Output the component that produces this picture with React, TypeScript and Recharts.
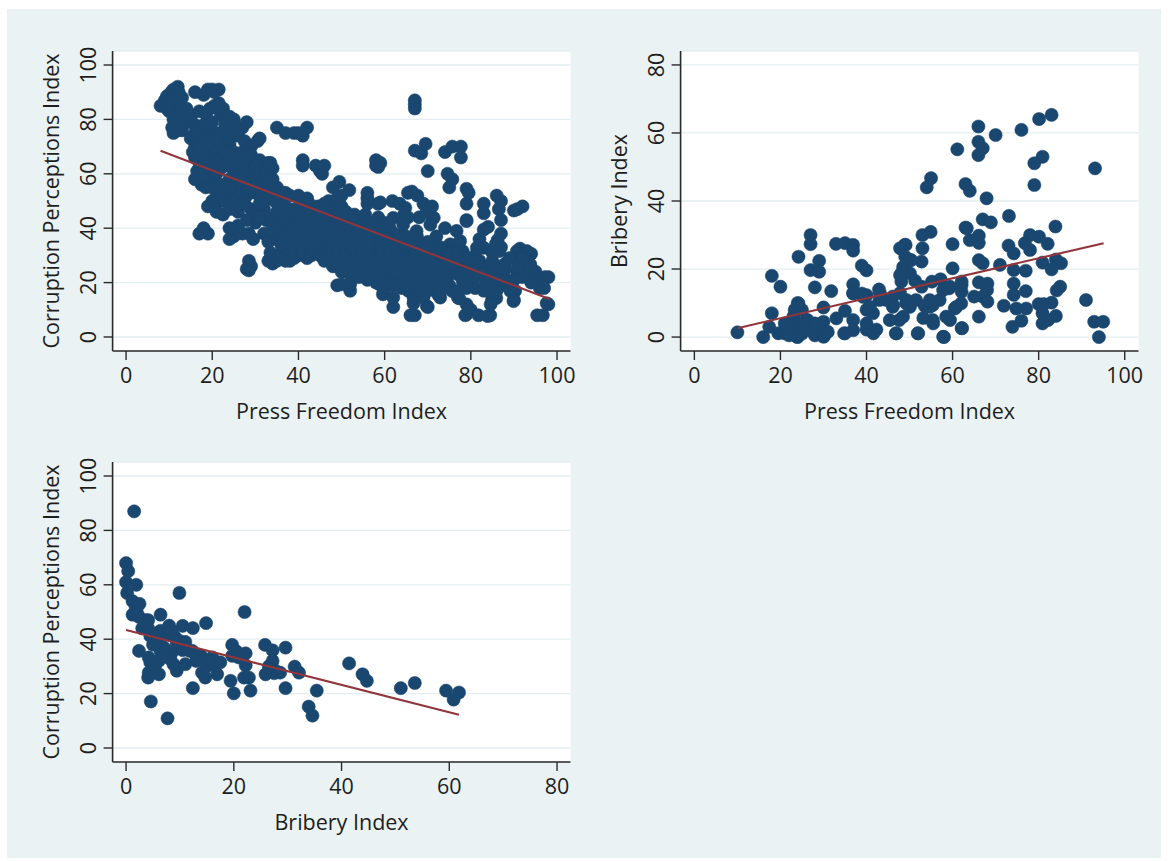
import React from 'react';
import { ScatterChart, Scatter, XAxis, YAxis, CartesianGrid, Label } from 'recharts';

type Pt = [number, number];

// ---------- DATA ----------
const xTicks100 = [0, 20, 40, 60, 80, 100];
const xTicks80 = [0, 20, 40, 60, 80];
const yTicks100 = [0, 20, 40, 60, 80, 100];
const yTicks80 = [0, 20, 40, 60, 80];

const titlePress = 'Press Freedom Index';
const titleCpi = 'Corruption Perceptions Index';
const titleBribery = 'Bribery Index';

// Panel 1: Press Freedom Index (x) vs Corruption Perceptions Index (y)
const pressVsCpi: Pt[] = [
  [8,85],[9,87],[9.5,88.5],[10,89],[10.5,90],[11,91],[12,92],[12.2,90],[11.5,87],[10.5,86],[9.5,84],[11,84],[12.5,86],[13,84],[13.5,82],[12,83],[11,80],[10.7,77],[11,75],[12,78],[14.5,82],[13.5,80],[15,79],[16,78],
  [9,86],[10,87],[11,88],[12,89],[13,88],[10,83],[12,81],[11.5,79],[13,76],[12,76],[14,84],[15,81],
  [16,90],[18,89],[19,91],[20,91],[21.5,91],[20.5,90],
  [17,83],[18.5,82],[19.5,84],[20.5,85],[21.5,86],[22.5,84],[22,82],[23,80],[24,81],[25,80],[25,77],[23,76],[21,75],[19,77],[18.5,73],[17,74],[16.5,72],[16,70],[15.5,68],[16,66],[17,64],[16.5,61],[16,58],[17.5,56],[18.5,55],[19,62],[18,63],
  [20,71],[22,70],[24,71],[26,74],[27.5,72],[29,70],[30.5,72],[31,73],[27,77],[28,79],[26,76],[23.5,73],[25,68],[27,68],[29,67],[26,66],[24,66],[22,67],[20,68],[21,64],[23,63],[25,61],[27,63],[29,64],[31,65],[33,64],[34,62],[32.5,61],[31,61],[29,61],[28,58],[26,59],[24,58],[22,56],[20,58],[21,60],[23,55],[25,55],[27,56],[29,57],[31,56],[33,55],[35,55],[37,53],[30,53],[28,52],[26,50],[24,52],[22,50],[20,50],[19,48],[21,46],[22.5,45],[24,47],[26,46],[27.5,49],[29,47],[30,45],[31,49],[32,47],[32.5,43],[30,42],[28,43],[26,41],[24,40],[25,37],[27,38],[28.5,38],[29.5,36],[24,36],[17,38],[18,40],[19,38],[18,39],
  [21,52],[23,50],[25,49],[23,53],[25,52],[27,53],[29,54],[31,52],[33,51],[32,58],[30,59],[28,61],[26,63],[24,64],[22,62],[20,63],[19,66],[21,69],[23,68],[25,65],[27,65],[28,66],[30,63],[32,56],[34,58],[30,55],[28,55],[26,57],[24,55],[22,53],[20,55],[18,59],[18,66],[17,69],[19,71],[21,73],[23,78],[20,79],[18,78],[16,75],[15,73],
  [28.5,28],[28,25],[29,26],[28.5,24.5],[33,28],[34,27],[35,28],[36,30],[37,28],[33.5,31],
  [33,44],[34,41],[35,46],[36,50],[37,48],[38,52],[34,52],[32,50],[31,44],[32,38],[34,36],[36,34],[33,35],[35,38],[37,40],[36,43],
  [35,77],[37,75],[39,75],[40,75],[41,74],[42,77],[33.5,64],[33,63],[36.5,53],[34.5,50],
  [41,65],[41,63],[44,63],[45,61],[45.5,60],[46,63],
  [48,55],[49.5,57],[51.8,54],[47,50],[50,52],[49,51],[47.5,47],[46,49],[44.5,48],[42,51],[41,50],[40,52],[42.5,49],
  [56,53],[56,49],[56,51],[58.5,49],[59,49.5],[58,65],[58,63],[59,64],[58.5,62.5],
  [61.8,50],[63.5,49],[65.4,53],[66.3,53.5],[67.6,52],[69,49],[71,48],[71,44],[65.4,44],[68,44],[64.5,45],[64.8,47.5],[62,43.8],[64.3,41.3],[67.4,38.9],
  [67,87],[67,85.5],[67,84],[67,68.5],[68.5,67.5],[69.5,71],[70,61],
  [74,68],[75.7,70],[77.7,70],[77.7,66],[74.6,60],[75.7,58],[75,55],
  [79,54.5],[79.5,53],[79,49],[79,43],[83,49],[83,45.5],[83,39.5],[84,40.5],
  [86,52],[87,50],[86.5,47],[87,43],[87,38],[86.2,35.6],
  [90,46.5],[90.8,47],[92,48],
  [93.3,24.6],[94.6,22],[90,13.6],[90.3,17],[96.3,21],[97.2,22],[97.6,12.4],[95.4,8],[96.7,8],[94,30.6],[93.2,28.2],[91.4,32.5],[95,20.6],[96,18],[98,22],[98,12],
  [62,11],[66,8],[67,8],[70,11],[66.7,12.4],[72.4,15.6],[77.3,14.2],[78.7,8],[81.8,8],[84.5,8],[84.9,13.6],[85.9,14.3],[79,12],[77,14.5],[80,10],[84.6,12],
  [49,19],[50,19.4],[52,17],[52,19.4],[58.8,19.4],[59.6,15.7],[62,14.5],[66.7,14.5],[65.5,17],[69.8,11.4],[68.2,19.4],[69.8,20.6],
  [70.6,47.5],[71.4,43.8],[70.6,41.3],[69.8,46.3],[76.7,39],[74,40],[79,42.6],[83,32.8],[81.4,32.8],[85.8,34.1],[86.6,31.6],[90.7,31.6],[93,31.6],[91.4,29.1],[93.8,25.5],[89.2,16.9],[89.9,13.2],[83.9,7.7],[79,8.3],[72.9,14.5],[75.7,16.9],[74.2,21.8],[78.1,20.6],[80.5,20.6],[83.5,20.6],[85.8,20.6],[89,20.6],[79,25.5],[81.4,26.7],[83.5,25.5],[86.6,24.3],[90.7,24.3],[93.8,26.7],[72.9,29.1],[76,29.1],[78.1,31.6],[72.1,25.5],[69.8,26.7],[69,31.6],[71.4,34.1],[75.2,34.1],[77.5,35.3],[75.2,23.1],[72.9,19.4],[70.6,19.4],[68.2,16.9],[69,14.5],[88,27],[87,22],[81,18],[76,26],[82,36],[80,29],[74,32],[77,23],[71,23],[72,37],[84,17],[88,25],[92,22],
  [71,27],[71,31],[73,17],[73,21],[73,25],[73,33],[75,19],[75,27],[75,31],[77,17],[77,27],[77,31],[79,18],[79,22],[79,29],[81,22],[81,24],[81,30],[82,28],[83,17],[83,23],[85,24],[85,28],[85,31],[86,17],[87,26],[87,33],[88,19],[89,29],[90,21],[91,26],[92,29],[94,20],[95,24],[97,18],
  [36,31],[36,35],[36.5,39],[35.5,42],[38,28],[38.5,32],[38,36],[37.5,40],[38.5,44],[39,47],[40,30],[40.5,34],[40,38],[39.5,42],[40,45],[42,29],[42.5,33],[42,37],[41.5,41],[42,45],[44,31],[43.5,35],[44,39],[44.5,43],[44,47],[46,28],[46,32],[45.5,36],[46,40],[46.5,44],[46,48],[48,26],[48,30],[48.5,34],[48,38],[47.5,42],[48,46],[50,24],[50.5,28],[50,32],[49.5,36],[50,40],[50.5,44],[50,48],[52,23],[52,27],[51.5,31],[52,35],[52.5,39],[52,43],[54,22],[53.5,26],[54,30],[54.5,34],[54,38],[53.5,42],[56,21],[56.5,25],[56,29],[55.5,33],[56,37],[56.5,41],[55.5,45],[58,20],[58,24],[58.5,28],[58,32],[57.5,36],[58,40],[58.5,44],[60,18],[60.5,22],[60,26],[59.5,30],[60,34],[60.5,38],[60,42],[62,19],[61.5,23],[62,27],[62.5,31],[62,35],[61.5,39],[64,18],[64,22],[64.5,26],[64,30],[63.5,34],[64,38],[66,19],[66.5,23],[66,27],[65.5,31],[66,35],[68,21],[68,25],[68.5,29],[68,33],[67.5,37],[70,17],[70.5,21],[70,25],[69.5,30],[70,35],
  [37,33],[37,37],[37,44],[39,29],[39,33],[39,37],[39,40],[41,31],[41,35],[41,39],[41,43],[41,47],[43,30],[43,33],[43,37],[43,41],[43,45],[45,30],[45,34],[45,38],[45,42],[45,46],[47,28],[47,32],[47,36],[47,40],[47,44],[49,27],[49,31],[49,35],[49,39],[49,43],[49,47],[51,26],[51,30],[51,34],[51,38],[51,42],[51,46],[53,24],[53,28],[53,33],[53,37],[53,41],[53,45],[55,23],[55,27],[55,31],[55,35],[55,39],[55,43],[57,22],[57,26],[57,30],[57,34],[57,38],[57,42],[59,20],[59,24],[59,28],[59,32],[59,36],[59,40],[61,20],[61,25],[61,29],[61,33],[61,37],[61,41],[63,20],[63,24],[63,28],[63,32],[63,36],[65,21],[65,25],[65,29],[65,33],[65,37],[67,19],[67,23],[67,27],[67,31],[67,35],[69,19],[69,23],[69,27],[69,33],
];
const fitPressCpi: Pt[] = [[8, 68.5], [98.4, 13.9]];

// Panel 2: Press Freedom Index (x) vs Bribery Index (y)
const pressVsBribery: Pt[] = [
  [10,1.4],[16,0],[18,18],[20,14.8],[18,7],[17.4,3],[19.5,1.1],[21,1.1],[21.8,4],[23.3,5],[24.2,9.9],[24.2,23.6],[23.3,8],[24.4,2.1],[24,0],[26.3,5],[27,30],[27,27.3],[29,22.4],[27,19.7],[29,19.2],[28,14.6],[30,8.7],[30,4.5],[30.1,0.2],[28.6,2.2],[31.8,13.5],[32.9,27.4],[35,27.6],[36.9,27.1],[36.9,25.4],[38.9,21],[40,19.6],[36.9,15.5],[36.9,12.8],[38.9,12.8],[40,12.3],[42.9,14],[33,5.5],[35,7.7],[34.8,1.1],[36.9,5],[40,8],[41.5,7],[40,2.2],[42.3,2.2],[46.1,8.9],[46.8,1.1],[47.6,5],[48.9,27.1],[48.1,18.7],[48.5,20.6],[48.1,16.3],[50.4,22.6],[43,10.9],[44.6,10.9],[46.1,11.9],[49.2,9.9],
  [83,65.3],[80.1,64.1],[76,60.9],[70,59.4],[66,61.9],[66,57.4],[67,55.5],[66,53.5],[61.1,55.2],[80.9,53],[79,51.1],[93.1,49.6],[79,44.7],[55,46.7],[54,44],[63,45],[64,43],[67.9,40.8],[73.1,35.6],[67,34.6],[68.9,33.7],[83.9,32.5],[63,32.2],[53,30],[54.9,30.9],[49.1,27.1],[53,26.1],[60,27.3],[64,28.5],[66.1,29.8],[66.1,27.7],[73,26.9],[74.2,24.6],[78,30],[76.8,27.6],[80.1,29.5],[82.1,27.4],[78,25.6],[52.8,22.2],[50.1,22.6],[66.1,22.6],[67,21.7],[71,21.2],[74.2,19.7],[77,19.5],[80.9,21.9],[84,22.8],[85.2,21.7],[83,19.9],[60,20.2],[50.1,18.7],[47.8,18.2],[51.3,16.5],[55.2,16.3],[57.2,17],[59.2,14.3],[62.1,15.3],[62.1,13.3],[66.1,16.1],[68.1,15.7],[74.2,15.7],[85,14.8],[84.2,13.7],[77,13.5],[74.2,12.4],[68,13.8],[67,11.9],[65,11.9],[68.1,10.4],[71.9,9.2],[74.8,8.4],[77.1,8.4],[80,9.7],[81.2,9.7],[83,10.1],[80.9,7],[84,6.2],[82.2,5],[80.9,4],[76,4.8],[73.9,3],[91,10.9],[92.9,4.5],[95,4.5],[94,0],[47.8,26.1],[49,23.6],[52.8,14.8],[62,9.9],[60.5,8.4],[66.1,6],[62.2,2.6],[58,0],[51.9,1.1],[55.4,5],[58.5,6],[49.3,10.9],[51.5,10.9],[55.4,9.4],[57,10.9],[53.5,9.2],[62.1,16.3],[63.3,32],
  [30,0.1],[23.8,0.1],[35,1.1],[36.9,2],[41.6,1.1],[47,1.1],[52,1.1],[57.8,0.1],[62.1,2.6],[40,4],[45.4,5],[48.5,6],[53.2,5.6],[55.5,4],[59.4,5],[40.8,8.9],[46.2,9.4],[50.1,8.9],[54.7,8.9],[60.9,8.9],[43.1,12.9],[39.2,11.8],[36.9,12.9],[47.8,12.9],[54.7,10.9],[57.8,13.8],[59.4,14.8],
  [24,3],[25,1],[26,5],[27,2],[28,0.5],[29,3],[22,2],[21,4],[23,6],[25,8],[26,3],[24,10],[28,4],[30,2],[31,1.5],[22,0.5],
];
const fitPressBribery: Pt[] = [[10, 2.6], [95.1, 27.6]];

// Panel 3: Bribery Index (x) vs Corruption Perceptions Index (y)
const briberyVsCpi: Pt[] = [
  [1.5,87],[0,68],[0.4,65],[0,61],[1.9,60],[0.2,57],[1.2,54],[2.5,53],[1.8,51.6],[1.2,49],[2.4,48.2],[4.1,47],[6.4,49],[9.9,57],[22,50],[4.1,44],[4.5,41.2],[6.4,43.1],[7.6,41.9],[8.5,43.1],[10.5,44.9],[12.4,44.1],[14.85,45.9],[9.9,39.4],[6.4,40.6],[2.4,35.7],[6.4,35.7],[8.5,35.1],[9.4,38.1],[12.3,35.7],[12.9,34.5],[13.9,33.9],[16,33.3],[8.2,32.7],[4.5,31.5],[6.1,32.1],[4.8,28.4],[4.1,25.9],[6.1,27.1],[9.4,28.4],[11,30.8],[14.1,27.7],[14.7,25.9],[16,30.8],[16.9,27.1],[19.7,37.9],[19.7,33.9],[20.9,33.3],[22.2,34.8],[22.2,30.4],[21.9,25.9],[22.8,25.9],[19.4,24.7],[20,20.1],[23.1,21.1],[12.4,22],[4.6,17.1],[7.7,10.9],[25.8,37.9],[27.2,35.9],[29.6,36.9],[27.2,32],[25.9,27.1],[27.7,28.4],[28.6,27.7],[29.6,22],[31.3,29.9],[32.1,27.7],[33.9,15.2],[34.6,11.9],[35.4,21.1],[41.4,31.1],[43.9,27.1],[44.7,24.7],[51,22],[53.6,23.9],[59.4,21.1],[61.8,20.4],[60.8,17.8],
  [4.2,33.3],[5.4,30.4],[4.2,27.7],[7.9,33.9],[8.8,30.8],[5,38],[7,37],[10.5,36],[11.8,35.7],[13,32],[15,30],[3,44],[5.5,42],[8,45],[9,41],[11,39],[3.5,47],[2,50],[15.5,32],[17.5,31.5],[20.5,35.5],[26.5,30],[27.5,27.5],
];
const fitBriberyCpi: Pt[] = [[0, 43.4], [61.8, 12.2]];

// ---------- STYLE ----------
const FONT = '"Open Sans", "DejaVu Sans", sans-serif';
const FONT_SIZE = 21.5;
const NAVY = '#1A476F';
const MAROON = '#90353B';
const TEXT = '#1e1e1e';
const AXIS = '#2a2a2a';
const GRID = '#E4EEF0';
const BG = '#EAF2F3';

const CW = 590;
const CH = 440;
const MARGIN = { top: 51, right: 19.5, bottom: 29, left: 52.6 };
const YAXIS_W = 60;
const XAXIS_H = 60;
const PLOT_X = MARGIN.left + YAXIS_W;
const PLOT_Y = MARGIN.top;
const PLOT_W = CW - MARGIN.right - PLOT_X;
const PLOT_H = CH - MARGIN.top - MARGIN.bottom - XAXIS_H;

const toObjs = (pts: Pt[]) => pts.map(([x, y]) => ({ x, y }));

const XTick = (props: any) => {
  const { x, y, payload } = props;
  return (
    <text x={x} y={y + 23} textAnchor="middle" fontFamily={FONT} fontSize={FONT_SIZE} fill={TEXT}>
      {payload.value}
    </text>
  );
};

const YTick = (props: any) => {
  const { x, y, payload } = props;
  const bx = x - 7.5;
  return (
    <text x={bx} y={y} transform={`rotate(-90, ${bx}, ${y})`} textAnchor="middle" fontFamily={FONT} fontSize={FONT_SIZE} fill={TEXT}>
      {payload.value}
    </text>
  );
};

const Dot = (props: any) => <circle cx={props.cx} cy={props.cy} r={6.6} fill={NAVY} stroke={NAVY} strokeWidth={0.5} />;
const NoDot = () => <g />;

interface PanelProps {
  left: number;
  top: number;
  points: Pt[];
  fit: Pt[];
  xDomain: [number, number];
  yDomain: [number, number];
  xTicks: number[];
  yTicks: number[];
  xTitle: string;
  yTitle: string;
}

function Panel({ left, top, points, fit, xDomain, yDomain, xTicks, yTicks, xTitle, yTitle }: PanelProps) {
  const xTitleX = PLOT_X + PLOT_W / 2;
  const xTitleY = PLOT_Y + PLOT_H + 68;
  const yTitleX = PLOT_X - 53.5;
  const yTitleY = PLOT_Y + PLOT_H / 2;
  return (
    <div style={{ position: 'absolute', left, top, width: CW, height: CH }}>
      <ScatterChart width={CW} height={CH} margin={MARGIN}>
        <CartesianGrid horizontal vertical={false} stroke={GRID} strokeWidth={1.3} fill="#ffffff" fillOpacity={1} />
        <XAxis
          type="number"
          dataKey="x"
          domain={xDomain}
          ticks={xTicks}
          interval={0}
          height={XAXIS_H}
          tick={(p: any) => <XTick {...p} />}
          tickSize={9}
          tickMargin={0}
          tickLine={{ stroke: AXIS, strokeWidth: 1.4 }}
          axisLine={{ stroke: AXIS, strokeWidth: 1.6 }}
          allowDataOverflow
        >
          <Label
            content={() => (
              <text x={xTitleX} y={xTitleY} textAnchor="middle" fontFamily={FONT} fontSize={FONT_SIZE} fill={TEXT}>
                {xTitle}
              </text>
            )}
          />
        </XAxis>
        <YAxis
          type="number"
          dataKey="y"
          domain={yDomain}
          ticks={yTicks}
          interval={0}
          width={YAXIS_W}
          tick={(p: any) => <YTick {...p} />}
          tickSize={9}
          tickMargin={0}
          tickLine={{ stroke: AXIS, strokeWidth: 1.4 }}
          axisLine={{ stroke: AXIS, strokeWidth: 1.6 }}
          allowDataOverflow
        >
          <Label
            content={() => (
              <text
                x={yTitleX}
                y={yTitleY}
                transform={`rotate(-90, ${yTitleX}, ${yTitleY})`}
                textAnchor="middle"
                fontFamily={FONT}
                fontSize={FONT_SIZE}
                fill={TEXT}
              >
                {yTitle}
              </text>
            )}
          />
        </YAxis>
        <Scatter data={toObjs(points)} shape={Dot} isAnimationActive={false} />
        <Scatter
          data={toObjs(fit)}
          shape={NoDot}
          line={{ stroke: MAROON, strokeWidth: 2.1 }}
          isAnimationActive={false}
        />
      </ScatterChart>
    </div>
  );
}

export default function App() {
  return (
    <div style={{ position: 'absolute', left: 0, top: 0, width: 1168, height: 861, background: '#ffffff', overflow: 'hidden' }}>
      <div style={{ position: 'absolute', left: 7, top: 9, width: 1154, height: 849, background: BG }} />
      <Panel
        left={0}
        top={0}
        points={pressVsCpi}
        fit={fitPressCpi}
        xDomain={[-3.125, 103.125]}
        yDomain={[-5.15, 105.15]}
        xTicks={xTicks100}
        yTicks={yTicks100}
        xTitle={titlePress}
        yTitle={titleCpi}
      />
      <Panel
        left={567.9}
        top={0}
        points={pressVsBribery}
        fit={fitPressBribery}
        xDomain={[-3.2, 103.2]}
        yDomain={[-4.1, 84.1]}
        xTicks={xTicks100}
        yTicks={yTicks80}
        xTitle={titlePress}
        yTitle={titleBribery}
      />
      <Panel
        left={0}
        top={410.5}
        points={briberyVsCpi}
        fit={fitBriberyCpi}
        xDomain={[-2.5, 82.5]}
        yDomain={[-5.15, 105.15]}
        xTicks={xTicks80}
        yTicks={yTicks100}
        xTitle={titleBribery}
        yTitle={titleCpi}
      />
    </div>
  );
}
